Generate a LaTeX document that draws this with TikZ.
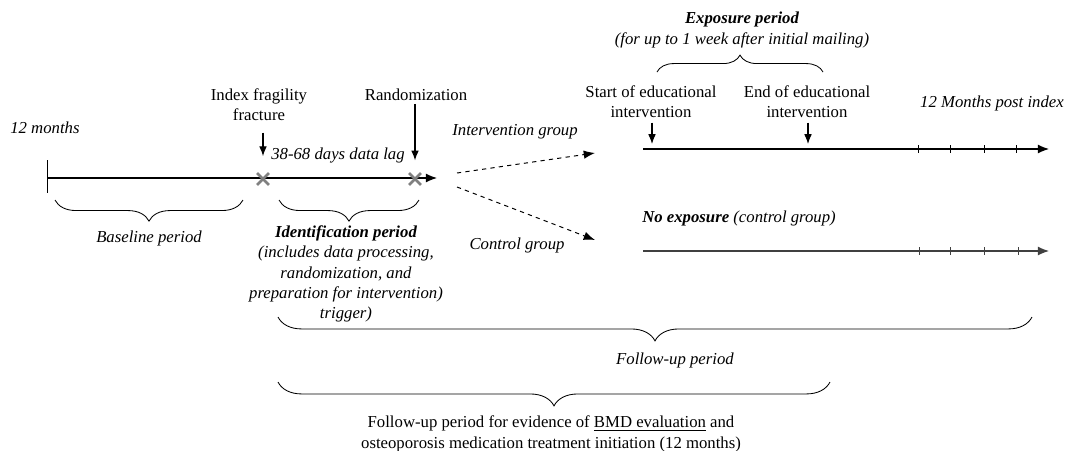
\documentclass[tikz,border=0pt]{standalone}
\usepackage{fontspec}
\setmainfont{Liberation Serif}
\usetikzlibrary{arrows.meta,decorations.pathreplacing,shapes.misc,positioning}

\tikzset{
 lbl/.style={inner sep=0pt,align=center,font=\fontsize{11.9}{14.4}\selectfont},
 itlbl/.style={lbl,font=\fontsize{11.9}{14.4}\selectfont\itshape},
 timeline/.style={line width=0.8pt,-{Latex[length=8pt,width=6.5pt]}},
 pointer/.style={line width=0.8pt,-{Latex[length=7pt,width=5.5pt]}},
 branch/.style={dashed,line width=0.7pt,-{Latex[length=8pt,width=6pt]}},
 curlybrace/.style={decorate,decoration={brace,amplitude=#1},line width=0.6pt},
 tickmark/.style={line width=0.6pt},
 xmark/.style={cross out,draw=gray,line width=2pt,minimum size=6.5pt,inner sep=0pt}
}

\begin{document}
\begin{tikzpicture}[x=0.025cm,y=-0.025cm]
\useasboundingbox (0,0) rectangle (1067,450);
%baseline and identification timeline
\coordinate (t0) at (47,178);
\coordinate (t1) at (437,178);
\draw[timeline] (t0)--(t1);
\draw[tickmark] (47,160)--(47,193);
\node[xmark] (fx) at (263,179) {};
\node[xmark] (rx) at (415,179) {};
%labels above
\node[itlbl,anchor=west] (months) at (10,128) {12 months};
\node[lbl] (fracture) at (259,105) {Index fragility\\fracture};
\node[lbl] (random) at (416,95) {Randomization};
\node[itlbl] (lag) at (338,155) {38-68 days data lag};
\draw[pointer,shorten <=8pt,shorten >=12pt] (fracture.south -| fx)--(fx.north);
\draw[pointer,shorten <=2pt,shorten >=9pt] (random.south -| rx)--(rx.north);
%periods below
\draw[curlybrace=15pt] (243,200)--(55,200);
\node[itlbl] (basep) at (149,238) {Baseline period};
\draw[curlybrace=15pt] (419,200)--(279,200);
\node[itlbl] (identp) at (346,274) {\textbf{Identification period}\\(includes data processing,\\randomization, and\\preparation for intervention)\\trigger)};

%randomized groups
\coordinate (split1) at (457,173);
\coordinate (split2) at (457,187);
\coordinate (intend) at (595,153);
\coordinate (ctrlend) at (595,240);
\node[itlbl] (intgrp) at (515,132) {Intervention group};
\node[itlbl] (ctrlgrp) at (517,245) {Control group};
\draw[branch] (split1)--(intend);
\draw[branch] (split2)--(ctrlend);

%intervention timeline
\node[itlbl] (expop) at (742,30) {\textbf{Exposure period}\\(for up to 1 week after initial mailing)};
\draw[curlybrace=12pt] (657,72)--(823,72);
\node[lbl] (startint) at (651,102) {Start of educational\\intervention};
\node[lbl] (endint) at (807,102) {End of educational\\intervention};
\node[itlbl] (postidx) at (992,103) {12 Months post index};
\coordinate (u0) at (643,149);
\coordinate (u1) at (1049,149);
\coordinate (startmail) at (652,144);
\coordinate (endmail) at (808,144);
\draw[timeline] (u0)--(u1);
\draw[tickmark] (918,145)--(918,153);
\draw[tickmark] (950,145)--(950,153);
\draw[tickmark] (984,145)--(984,153);
\draw[tickmark] (1016,145)--(1016,153);
\draw[pointer,shorten <=3pt] (startint.south -| startmail)--(startmail);
\draw[pointer,shorten <=3pt] (endint.south -| endmail)--(endmail);

%control timeline
\node[itlbl,anchor=west] (noexp) at (642,218) {\textbf{No exposure} (control group)};
\coordinate (l0) at (643,251);
\coordinate (l1) at (1049,251);
\draw[timeline,black!75] (l0)--(l1);
\draw[tickmark,black!75] (919,247)--(919,255);
\draw[tickmark,black!75] (950,247)--(950,255);
\draw[tickmark,black!75] (984,247)--(984,255);
\draw[tickmark,black!75] (1018,247)--(1018,255);

%follow-up
\draw[curlybrace=17pt] (1032,317)--(278,317);
\node[itlbl] (followp) at (675,360) {Follow-up period};
\draw[curlybrace=17pt] (830,382)--(278,382);
\node[lbl] (evidence) at (551,434) {Follow-up period for evidence of \underline{BMD evaluation} and\\osteoporosis medication treatment initiation (12 months)};
\end{tikzpicture}
\end{document}
